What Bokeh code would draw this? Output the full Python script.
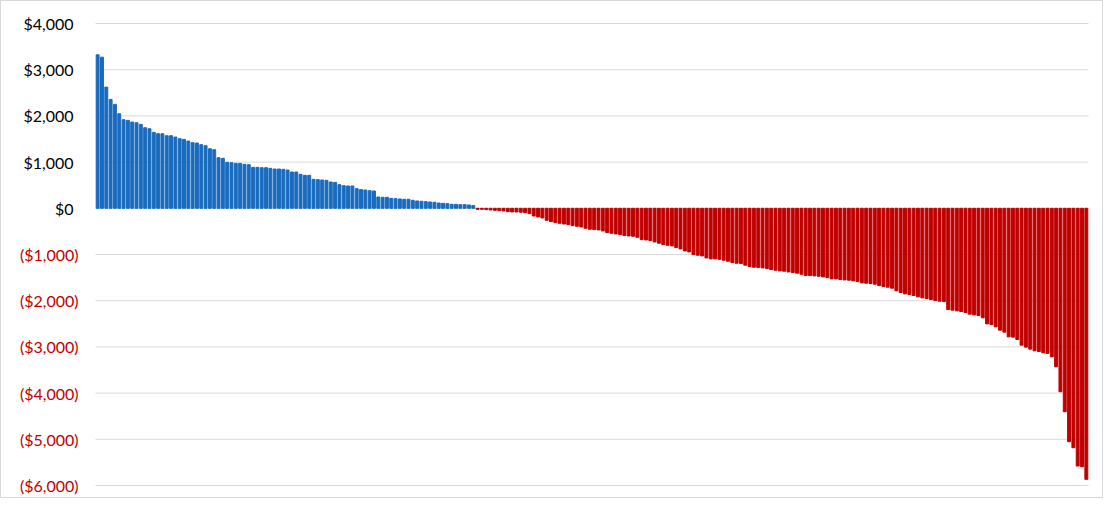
from bokeh.plotting import figure
from bokeh.models import ColumnDataSource, Range1d, LabelSet
from bokeh.core.properties import value
from bokeh.embed import file_html
from bokeh.resources import INLINE

# ---- data ----
gains = [3322, 3272, 2623, 2357, 2249, 2047, 1917, 1903, 1867, 1852,
         1816, 1744, 1722, 1643, 1614, 1614, 1571, 1571, 1542, 1506,
         1492, 1456, 1420, 1413, 1377, 1355, 1290, 1268, 1095, 1081,
         995, 987, 973, 973, 951, 944, 886, 886, 879, 879,
         865, 850, 850, 843, 829, 786, 786, 735, 714, 714,
         627, 620, 613, 605, 569, 562, 512, 490, 483, 483,
         425, 404, 396, 382, 375, 245, 238, 238, 216, 209,
         202, 195, 195, 173, 159, 151, 144, 137, 130, 115,
         108, 101, 86, 86, 79, 79, 72, 58]

losses = [-22, -22, -29, -36, -43, -50, -58, -72, -79, -79,
          -86, -94, -115, -166, -187, -209, -259, -288, -310, -324,
          -339, -353, -375, -389, -404, -432, -454, -461, -468, -490,
          -526, -540, -555, -569, -591, -598, -605, -627, -677, -685,
          -699, -728, -757, -786, -800, -814, -850,
          -879, -923, -944, -1002, -1016, -1031, -1074, -1095, -1095, -1103,
          -1124, -1146, -1175, -1189, -1196, -1232, -1261, -1276, -1283, -1290,
          -1305, -1326, -1341, -1355, -1362, -1377, -1391, -1405, -1427, -1456,
          -1456, -1463, -1470, -1485, -1499, -1528, -1528,
          -1542, -1550, -1557, -1571, -1586, -1614, -1622, -1629, -1643, -1672,
          -1694, -1708, -1730, -1787, -1823, -1852, -1867, -1888, -1917, -1939,
          -1953, -1975, -1996, -2011, -2018, -2191,
          -2205, -2220, -2234, -2256, -2292, -2306, -2321, -2371, -2501, -2515,
          -2566, -2638, -2681, -2782, -2789, -2840, -2962, -3005, -3049, -3085,
          -3099,
          -3128, -3142, -3214, -3431, -3971, -4404, -5052, -5182, -5578, -5593,
          -5867]

y_ticks = [4000, 3000, 2000, 1000, 0, -1000, -2000, -3000, -4000, -5000, -6000]
y_min, y_max = -6000, 4000

BLUE = "#196BBE"
RED = "#C00000"
GRID = "#d9d9d9"

vals = gains + losses
n = len(vals)
xs = list(range(n))
colors = [BLUE if v >= 0 else RED for v in vals]
src = ColumnDataSource(dict(x=xs, top=vals, color=colors))

# ---- layout: canvas size and the pixel box of the bar area ----
W, H = 1103, 498
box_left, box_right = 94, 1087
box_top, box_bottom = 22, 484
ppx = (box_right - box_left) / n
ppy = (box_bottom - box_top) / (y_max - y_min)
x_start = -0.5 - box_left / ppx
x_end = n - 0.5 + (W - box_right) / ppx
y_end = y_max + box_top / ppy
y_start = y_min - (H - box_bottom) / ppy


def fmt(v):
    s = "${:,}".format(abs(v))
    return "(" + s + ")" if v < 0 else s


lab_src = ColumnDataSource(dict(
    y=y_ticks,
    text=[fmt(v) for v in y_ticks],
    color=[RED if v < 0 else "#000000" for v in y_ticks],
    sx=[77 if v < 0 else 72 for v in y_ticks],
))

grid_src = ColumnDataSource(dict(
    x0=[-0.5] * len(y_ticks), x1=[n - 0.5] * len(y_ticks), y=y_ticks))

p = figure(width=W, height=H, output_backend="svg", toolbar_location=None,
           x_axis_type=None, y_axis_type=None,
           x_range=Range1d(x_start, x_end), y_range=Range1d(y_start, y_end),
           min_border=0)
p.xgrid.visible = False
p.ygrid.visible = False
p.outline_line_color = None
p.background_fill_color = "white"
p.border_fill_color = "white"
p.styles = {"border": "1px solid #d9d9d9"}

p.segment(x0="x0", x1="x1", y0="y", y1="y", line_color=GRID, line_width=1,
          source=grid_src)

p.vbar(x="x", top="top", bottom=0, width=0.68, color="color", source=src)

labels = LabelSet(x="sx", y="y", text="text", x_units="screen", y_units="data",
                  text_color="color", text_align="right", text_baseline="middle",
                  text_font=value("Lato"), text_font_size="16px", source=lab_src)
p.add_layout(labels)

open("out.html", "w").write(file_html(p, INLINE))
